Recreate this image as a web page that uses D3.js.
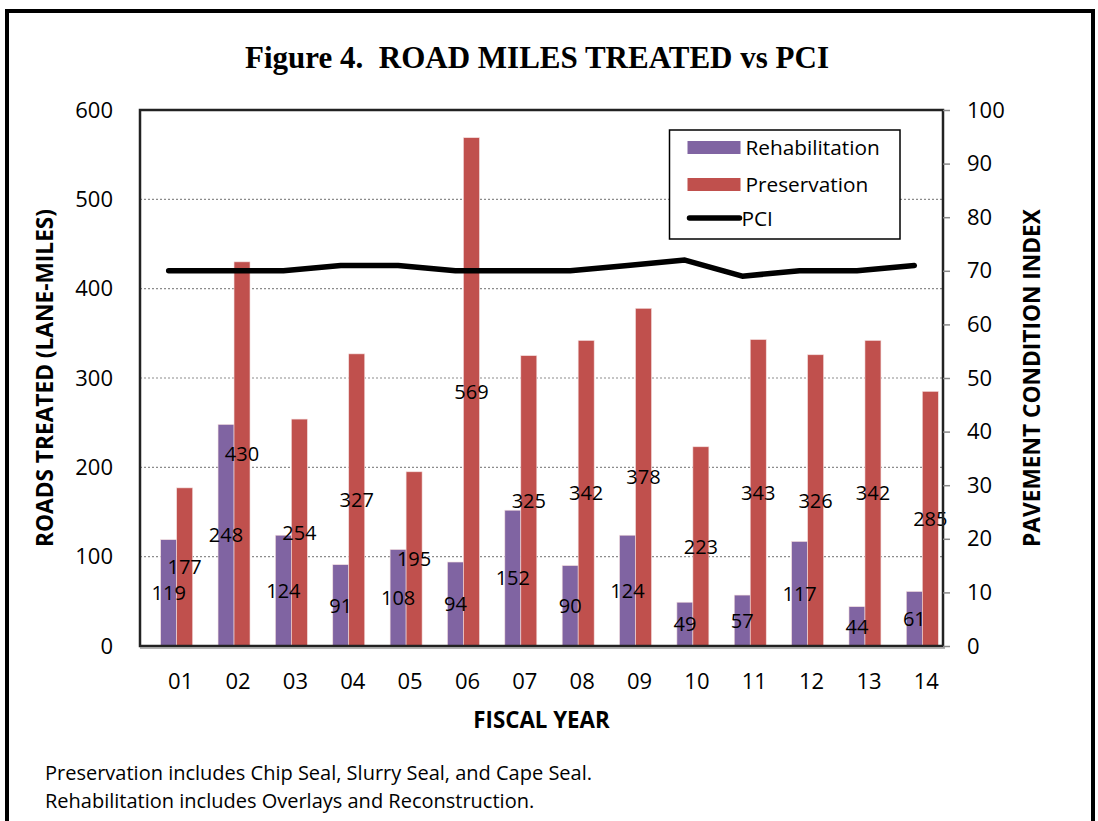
<!DOCTYPE html>
<html>
<head>
<meta charset="utf-8">
<script src="https://cdn.jsdelivr.net/npm/d3@7"></script>
<style>
  body { margin: 0; background: #fff; }
  text { font-family: "Open Sans", sans-serif; }
</style>
</head>
<body>
<svg id="plot"></svg>
<script>
// Chart data
const years = ["01", "02", "03", "04", "05", "06", "07", "08", "09", "10", "11", "12", "13", "14"];
const rehabilitation = [119, 248, 124, 91, 108, 94, 152, 90, 124, 49, 57, 117, 44, 61];
const preservation = [177, 430, 254, 327, 195, 569, 325, 342, 378, 223, 343, 326, 342, 285];
const pci = [70, 70, 70, 71, 71, 70, 70, 70, 71, 72, 69, 70, 70, 71];
const leftTicks = [0, 100, 200, 300, 400, 500, 600];
const rightTicks = [0, 10, 20, 30, 40, 50, 60, 70, 80, 90, 100];
const series = ["Rehabilitation", "Preservation"];
const colors = {Rehabilitation: "#8064A2", Preservation: "#C0504D"};

const W = 1098, H = 821;
const plot = {left: 140, right: 943, top: 110, bottom: 646};

const svg = d3.select("#plot")
    .attr("width", W)
    .attr("height", H);

// Outer frame
svg.append("rect")
    .attr("x", 7).attr("y", 11)
    .attr("width", 1086).attr("height", 900)
    .attr("fill", "none")
    .attr("stroke", "#000")
    .attr("stroke-width", 4);

// Scales
const x = d3.scaleBand()
    .domain(years)
    .range([plot.left, plot.right])
    .padding(0);
// three slots per year: the first stays empty (as in the source chart)
const xSub = d3.scaleBand()
    .domain(["", ...series])
    .range([4.7, x.bandwidth() - 4.7]);
const y = d3.scaleLinear().domain([0, 600]).range([plot.bottom, plot.top]);
const y2 = d3.scaleLinear().domain([0, 100]).range([plot.bottom, plot.top]);

// Title
svg.append("text")
    .attr("x", 537).attr("y", 68)
    .attr("text-anchor", "middle")
    .style("white-space", "pre")
    .style("font-family", "'Liberation Serif', 'Times New Roman', serif")
    .style("font-weight", "bold")
    .style("font-size", "31px")
    .text("Figure 4.  ROAD MILES TREATED vs PCI");

// Gridlines
svg.append("g")
  .selectAll("line")
  .data(leftTicks.filter(d => d > 0 && d < 600))
  .enter().append("line")
    .attr("x1", plot.left).attr("x2", plot.right)
    .attr("y1", d => y(d)).attr("y2", d => y(d))
    .attr("stroke", "#8c8c8c")
    .attr("stroke-width", 1.2)
    .attr("stroke-dasharray", "2,2");

// Bars
const rows = years.map((yr, i) => ({year: yr, Rehabilitation: rehabilitation[i], Preservation: preservation[i]}));
const groups = svg.append("g")
  .selectAll("g")
  .data(rows)
  .enter().append("g")
    .attr("transform", d => "translate(" + x(d.year) + ",0)");

groups.selectAll("rect")
    .data(d => series.map(s => ({key: s, value: d[s]})))
  .enter().append("rect")
    .attr("x", d => xSub(d.key))
    .attr("width", xSub.bandwidth())
    .attr("y", d => y(d.value))
    .attr("height", d => y(0) - y(d.value))
    .attr("fill", d => colors[d.key])
    .attr("stroke", "#f3dede")
    .attr("stroke-width", 0.6);

// Bar labels, centred inside the bar
groups.selectAll("text")
    .data(d => series.map(s => ({key: s, value: d[s]})))
  .enter().append("text")
    .attr("x", d => xSub(d.key) + xSub.bandwidth() / 2)
    .attr("y", d => y(d.value / 2))
    .attr("dy", "0.36em")
    .attr("text-anchor", "middle")
    .style("font-size", "20px")
    .attr("fill", "#000")
    .text(d => d.value);

// PCI line
const line = d3.line()
    .x((d, i) => x(years[i]) + x.bandwidth() / 2)
    .y(d => y2(d));
svg.append("path")
    .datum(pci)
    .attr("d", line)
    .attr("fill", "none")
    .attr("stroke", "#000")
    .attr("stroke-width", 5.5)
    .attr("stroke-linecap", "round")
    .attr("stroke-linejoin", "round");

// Plot area border
svg.append("rect")
    .attr("x", plot.left).attr("y", plot.top)
    .attr("width", plot.right - plot.left)
    .attr("height", plot.bottom - plot.top)
    .attr("fill", "none")
    .attr("stroke", "#222")
    .attr("stroke-width", 2.5);
svg.append("line")
    .attr("x1", plot.left).attr("x2", plot.right + 2)
    .attr("y1", plot.bottom + 2).attr("y2", plot.bottom + 2)
    .attr("stroke", "#999").attr("stroke-width", 1.5);

// Left axis
const gLeft = svg.append("g")
    .attr("transform", "translate(" + plot.left + ",0)")
    .call(d3.axisLeft(y).tickValues(leftTicks).tickSize(0).tickPadding(27));
gLeft.select(".domain").remove();
gLeft.selectAll("text").style("font-size", "22px").attr("fill", "#000")
    .style("font-family", "'Open Sans', sans-serif");

// Right axis
const gRight = svg.append("g")
    .attr("transform", "translate(" + plot.right + ",0)")
    .call(d3.axisRight(y2).tickValues(rightTicks).tickSize(7).tickPadding(17));
gRight.select(".domain").remove();
gRight.selectAll("line").attr("stroke", "#888").attr("stroke-width", 1.5);
gRight.selectAll("text").style("font-size", "22px").attr("fill", "#000")
    .style("font-family", "'Open Sans', sans-serif");

// Bottom axis
const gBottom = svg.append("g")
    .attr("transform", "translate(0," + plot.bottom + ")")
    .call(d3.axisBottom(x).tickSize(0).tickPadding(27));
gBottom.select(".domain").remove();
gBottom.selectAll("text").style("font-size", "22px").attr("fill", "#000").attr("dx", 12)
    .style("font-family", "'Open Sans', sans-serif");

// Axis titles
svg.append("text")
    .attr("transform", "translate(53," + (plot.top + plot.bottom) / 2 + ") rotate(-90)")
    .attr("text-anchor", "middle")
    .style("font-weight", "bold")
    .style("font-size", "22.7px")
    .text("ROADS TREATED (LANE-MILES)");
svg.append("text")
    .attr("transform", "translate(1040," + (plot.top + plot.bottom) / 2 + ") rotate(-90)")
    .attr("text-anchor", "middle")
    .style("font-weight", "bold")
    .style("font-size", "22.7px")
    .text("PAVEMENT CONDITION INDEX");
svg.append("text")
    .attr("x", (plot.left + plot.right) / 2).attr("y", 728)
    .attr("text-anchor", "middle")
    .style("font-weight", "bold")
    .style("font-size", "22.3px")
    .text("FISCAL YEAR");

// Legend
const legend = svg.append("g").attr("transform", "translate(669.5,130)");
legend.append("rect")
    .attr("width", 230.5).attr("height", 109)
    .attr("fill", "#fff")
    .attr("stroke", "#000")
    .attr("stroke-width", 1.5);
series.forEach((s, i) => {
  legend.append("rect")
      .attr("x", 18).attr("y", 11 + i * 37)
      .attr("width", 53).attr("height", 13)
      .attr("fill", colors[s]);
  legend.append("text")
      .attr("x", 76).attr("y", 18 + i * 37)
      .attr("dy", "0.36em")
      .style("font-size", "20.8px")
      .text(s);
});
legend.append("line")
    .attr("x1", 20).attr("x2", 70)
    .attr("y1", 88).attr("y2", 88)
    .attr("stroke", "#000").attr("stroke-width", 5.5)
    .attr("stroke-linecap", "round");
legend.append("text")
    .attr("x", 72).attr("y", 89)
    .attr("dy", "0.36em")
    .style("font-size", "20.8px")
    .text("PCI");

// Footnotes
svg.append("text")
    .attr("x", 45).attr("y", 780)
    .style("font-size", "20px")
    .text("Preservation includes Chip Seal, Slurry Seal, and Cape Seal.");
svg.append("text")
    .attr("x", 45).attr("y", 808)
    .style("font-size", "20px")
    .text("Rehabilitation includes Overlays and Reconstruction.");
</script>
</body>
</html>
